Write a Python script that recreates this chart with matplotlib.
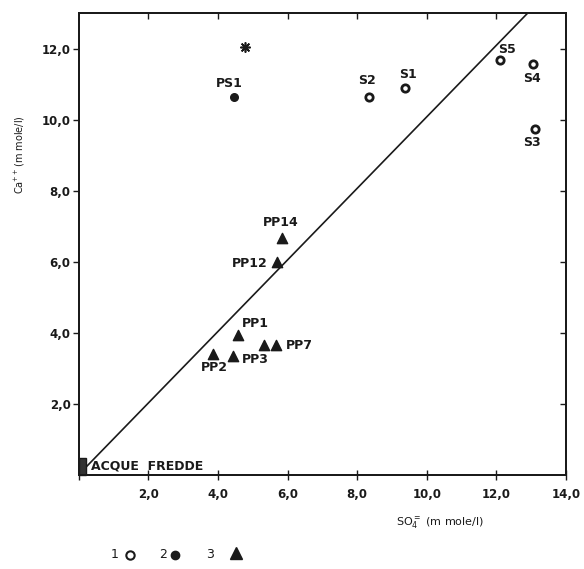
import matplotlib
matplotlib.use("Agg")
import matplotlib.pyplot as plt
from matplotlib.patches import Rectangle
from matplotlib.lines import Line2D

# group 1 (open circles) - S springs
s_names = ["S1", "S2", "S3", "S4", "S5"]
s_so4 = [9.37, 8.34, 13.10, 13.06, 12.11]
s_ca = [10.90, 10.65, 9.75, 11.57, 11.68]

# group 2 (filled circle)
ps_names = ["PS1"]
ps_so4 = [4.46]
ps_ca = [10.65]

# group 3 (triangles) - PP wells
pp_names = ["PP14", "PP12", "PP1", "PP7", "PP7b", "PP3", "PP2"]
pp_so4 = [5.83, 5.69, 4.57, 5.66, 5.31, 4.43, 3.86]
pp_ca = [6.66, 6.01, 3.93, 3.65, 3.65, 3.34, 3.40]

# the single asterisk sample
star_so4 = [4.77]
star_ca = [12.05]

# 1:1 line
line_x = [0.22, 13.2]
line_y = [0.24, 13.3]

xticks = [0, 2, 4, 6, 8, 10, 12, 14]
yticks = [2, 4, 6, 8, 10, 12]

# label offsets in pixels (dx, dy, ha)
offsets = {
    "PS1": (-5, 13, "center"), "S2": (-2, 16, "center"), "S1": (3, 13, "center"),
    "S5": (7, 11, "center"), "S4": (-1, -15, "center"), "S3": (-3, -14, "center"),
    "PP14": (-1, 16, "center"), "PP12": (-9, -2, "right"), "PP1": (4, 12, "left"),
    "PP7": (10, 0, "left"), "PP3": (9, -3, "left"), "PP2": (1, -13, "center"),
}

fig = plt.figure(figsize=(5.84, 5.69), dpi=100)
ax = fig.add_axes([0.135, 0.165, 0.834, 0.812])
ax.set_xlim(0, 14)
ax.set_ylim(0, 13)

ink = "#1a1a1a"
ax.plot(line_x, line_y, color=ink, lw=1.2)

ax.scatter(s_so4, s_ca, s=28, facecolor="white", edgecolor=ink, linewidths=2.0, zorder=3)
ax.scatter(ps_so4, ps_ca, s=30, color=ink, zorder=3)
ax.scatter(pp_so4, pp_ca, s=55, marker="^", color=ink, zorder=3)
ax.scatter(star_so4, star_ca, s=45, marker=(8, 2, 0), color=ink, linewidths=1.2, zorder=3)

# cold waters block at the origin
ax.add_patch(Rectangle((0, 0), 0.2, 0.48, facecolor="#333333", edgecolor=ink, zorder=3,
                       clip_on=False))
ax.text(0.35, 0.08, "ACQUE  FREDDE", fontsize=9, fontweight="bold", color=ink,
        ha="left", va="bottom")

k = 0.72  # px to points
for names, xs, ys in [(s_names, s_so4, s_ca), (ps_names, ps_so4, ps_ca),
                      (pp_names, pp_so4, pp_ca)]:
    for n, x, y in zip(names, xs, ys):
        if n not in offsets:
            continue
        dx, dy, ha = offsets[n]
        ax.annotate(n, (x, y), xytext=(dx * k, dy * k), textcoords="offset points",
                    ha=ha, va="center", fontsize=9, fontweight="bold", color=ink)

ax.set_xticks(xticks)
ax.set_xticklabels(["" if t == 0 else f"{t},0" for t in xticks])
ax.set_yticks(yticks)
ax.set_yticklabels([f"{t},0" for t in yticks])
ax.tick_params(axis="x", direction="inout", length=7, width=1, labelsize=8.5, pad=6,
               colors=ink)
ax.tick_params(axis="y", direction="out", length=4, width=1, labelsize=8.5, pad=2,
               colors=ink)
for lab in ax.get_xticklabels() + ax.get_yticklabels():
    lab.set_fontweight("bold")
for sp in ax.spines.values():
    sp.set_linewidth(1.2)
    sp.set_color(ink)

# inward ticks on top and right
top = ax.twiny()
top.set_xlim(ax.get_xlim())
top.set_xticks(xticks[1:-1])
top.tick_params(axis="x", direction="in", length=4, width=1, labeltop=False, colors=ink)
right = ax.twinx()
right.set_ylim(ax.get_ylim())
right.set_yticks(yticks)
right.tick_params(axis="y", direction="in", length=4, width=1, labelright=False, colors=ink)
for s in (top, right):
    for sp in s.spines.values():
        sp.set_linewidth(1.2)
        sp.set_color(ink)

fig.text(440 / 584, 1 - 523 / 569, "SO$_4^{=}$ (m mole/l)", fontsize=8, ha="center",
         va="center", color=ink)
fig.text(20 / 584, 1 - 155 / 569, "Ca$^{++}$(m mole/l)", fontsize=7, rotation=90,
         ha="center", va="center", color=ink)

# legend row
ly = 1 - 555 / 569
for num, xpx in [("1", 115), ("2", 163), ("3", 210)]:
    fig.text(xpx / 584, ly, num, fontsize=9, ha="center", va="center", color=ink)
fig.add_artist(Line2D([130 / 584], [ly], marker="o", markersize=6, markerfacecolor="white",
                      markeredgecolor=ink, markeredgewidth=1.5, linestyle="none"))
fig.add_artist(Line2D([175 / 584], [ly], marker="o", markersize=6, color=ink,
                      linestyle="none"))
fig.add_artist(Line2D([236 / 584], [ly + 0.004], marker="^", markersize=9, color=ink,
                      linestyle="none"))

fig.savefig("out.png", dpi=100, facecolor="white")
